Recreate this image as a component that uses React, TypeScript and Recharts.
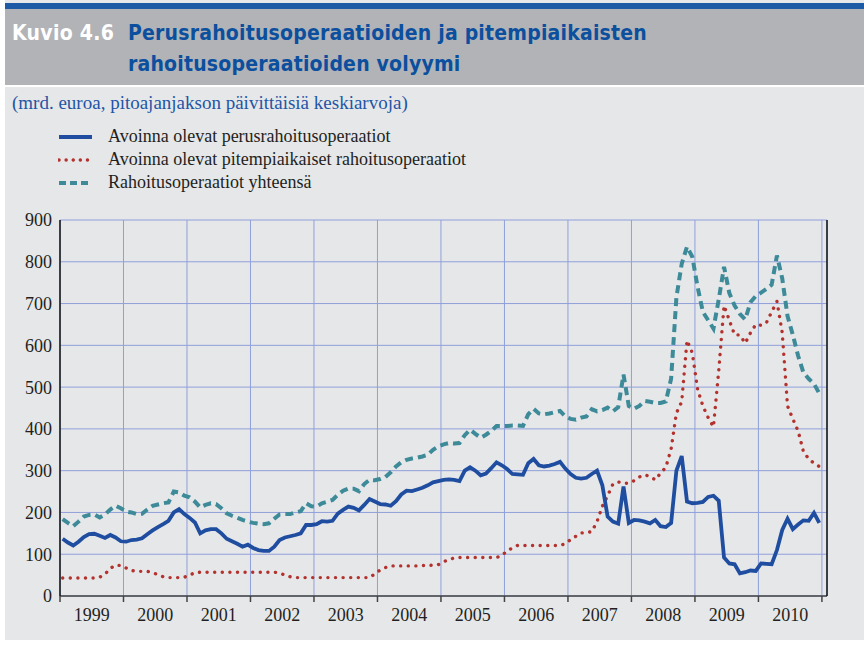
import React from 'react';
import { LineChart, Line, XAxis, YAxis, CartesianGrid } from 'recharts';

// monthly observations, January 1999 .. December 2010 (mrd. euroa)
const perus = [
  137, 128, 121, 130, 141, 148, 149, 144, 139, 146, 140, 131,
  130, 134, 135, 138, 148, 157, 165, 172, 180, 200, 208, 196,
  187, 176, 150, 157, 160, 160, 150, 137, 131, 125, 118, 123,
  115, 110, 108, 108, 118, 134, 140, 143, 146, 150, 170, 170,
  172, 179, 178, 180, 197, 206, 214, 211, 205, 218, 232, 226,
  220, 219, 216, 227, 243, 252, 251, 255, 259, 265, 272, 275,
  278, 279, 278, 275, 300, 308, 300, 289, 293, 306, 320, 313,
  304, 292, 291, 290, 318, 328, 313, 310, 312, 316, 321, 305,
  292, 283, 281, 283, 292, 300, 265, 190, 178, 173, 262, 175,
  182, 181, 178, 174, 182, 167, 165, 175, 300, 335, 226, 222,
  223, 225, 237, 240, 228, 92, 78, 76, 54, 57, 61, 60,
  78, 77, 76, 110, 158, 185, 160, 171, 181, 180, 199, 175,
];

const pitemmat = [
  43, 43, 43, 43, 43, 43, 43, 45, 52, 66, 74, 73,
  67, 61, 59, 59, 59, 56, 51, 46, 44, 44, 44, 45,
  50, 56, 57, 57, 57, 57, 57, 57, 57, 57, 57, 57,
  57, 57, 57, 57, 57, 55, 50, 46, 44, 44, 44, 44,
  44, 44, 44, 44, 44, 44, 44, 44, 44, 44, 44, 53,
  62, 68, 72, 72, 72, 72, 72, 72, 73, 73, 74, 75,
  82, 87, 91, 92, 92, 92, 92, 92, 92, 92, 92, 97,
  108, 115, 121, 121, 121, 121, 121, 121, 121, 121, 121, 125,
  135, 143, 151, 152, 154, 178, 215, 240, 268, 273, 270, 270,
  276, 285, 290, 286, 278, 294, 308, 352, 438, 465, 612, 582,
  495, 455, 427, 405, 540, 695, 660, 625, 625, 605, 630, 650,
  648, 654, 680, 705, 630, 455, 424, 395, 346, 328, 318, 310,
];

const yhteensa = [
  184, 175, 167, 178, 190, 194, 195, 188, 195, 207, 216, 210,
  202, 200, 196, 197, 207, 216, 219, 222, 224, 250, 248, 240,
  236, 226, 212, 218, 222, 220, 210, 198, 192, 187, 182, 178,
  175, 173, 172, 174, 185, 195, 196, 196, 200, 203, 222, 215,
  214, 222, 226, 230, 242, 252, 257, 257, 251, 268, 278, 277,
  280, 285, 296, 310, 320, 326, 329, 331, 334, 338, 350, 358,
  363, 366, 365, 366, 385, 398, 388, 379, 386, 395, 407, 407,
  407, 408, 408, 407, 435, 448, 437, 435, 437, 440, 443, 430,
  424, 422, 427, 430, 447, 442, 445, 451, 442, 452, 530, 455,
  448, 455, 467, 465, 462, 462, 466, 520, 715, 795, 836, 812,
  740, 680, 660, 640, 710, 788, 725, 695, 675, 662, 703, 718,
  726, 735, 745, 815, 760, 670, 625, 575, 535, 520, 508, 485,
];

const yearTicks = [1999, 2000, 2001, 2002, 2003, 2004, 2005, 2006, 2007, 2008, 2009, 2010, 2011];
const valueTicks = [0, 100, 200, 300, 400, 500, 600, 700, 800, 900];

const legendItems = [
  { label: 'Avoinna olevat perusrahoitusoperaatiot', color: '#1f4da0', dash: '', width: 4, cap: 'butt' },
  { label: 'Avoinna olevat pitempiaikaiset rahoitusoperaatiot', color: '#b3322d', dash: '0.1 7', width: 3.4, cap: 'round' },
  { label: 'Rahoitusoperaatiot yhteensä', color: '#3d8a99', dash: '7 4', width: 4, cap: 'butt' },
];

const data = perus.map((v, i) => ({
  t: 1999 + (i + 0.5) / 12,
  perus: v,
  pitemmat: pitemmat[i],
  yhteensa: yhteensa[i],
}));

const X_MAX = 2011.08;
const PLOT_W = 767;
const HALF_YEAR = PLOT_W / (X_MAX - 1999) / 2;
const SERIF = '"Liberation Serif", "Times New Roman", serif';
const TITLE_FONT = '"DejaVu Sans Condensed", "Liberation Sans Narrow", sans-serif';

const YearTick = (props: any) => {
  const { x, y, payload } = props;
  if (payload.value >= 2011) return <g />;
  return (
    <text x={x + HALF_YEAR} y={y} dy="0.95em" textAnchor="middle" fill="#231f20" fontSize={18} fontFamily={SERIF}>
      {payload.value}
    </text>
  );
};

const App: React.FC = () => {
  return (
    <div style={{ position: 'absolute', left: 0, top: 0, width: 864, height: 668, background: '#fff', overflow: 'hidden' }}>
      <div style={{ position: 'absolute', left: 5, top: 0, width: 859, height: 640, background: '#e6e7e9' }} />
      <div style={{ position: 'absolute', left: 5, top: 3, width: 859, height: 6, background: '#1d5aa6' }} />
      <div style={{ position: 'absolute', left: 5, top: 9, width: 859, height: 76, background: '#b2b3b6' }} />
      <div style={{ position: 'absolute', left: 5, top: 85, width: 859, height: 2, background: '#fff' }} />

      <div style={{ position: 'absolute', left: 12, top: 18, fontFamily: TITLE_FONT, fontWeight: 'bold', fontSize: 21, lineHeight: '31px', color: '#fff', letterSpacing: 0.3 }}>
        Kuvio 4.6
      </div>
      <div style={{ position: 'absolute', left: 128, top: 18, fontFamily: TITLE_FONT, fontWeight: 'bold', fontSize: 21, lineHeight: '31px', color: '#0b4f9e', letterSpacing: 0.2 }}>
        Perusrahoitusoperaatioiden ja pitempiaikaisten
        <br />
        rahoitusoperaatioiden volyymi
      </div>

      <div style={{ position: 'absolute', left: 12, top: 92, fontFamily: SERIF, fontSize: 19, color: '#1f55a5' }}>
        (mrd. euroa, pitoajanjakson päivittäisiä keskiarvoja)
      </div>

      <div style={{ position: 'absolute', left: 58, top: 125 }}>
        {legendItems.map((item) => (
          <div key={item.label} style={{ display: 'flex', alignItems: 'center', height: 23 }}>
            <svg width={36} height={10} style={{ marginRight: 14 }}>
              <line x1={1} y1={5} x2={34} y2={5} stroke={item.color} strokeWidth={item.width} strokeDasharray={item.dash} strokeLinecap={item.cap as any} />
            </svg>
            <span style={{ fontFamily: SERIF, fontSize: 18, color: '#231f20' }}>{item.label}</span>
          </div>
        ))}
      </div>

      <div style={{ position: 'absolute', left: 0, top: 200 }}>
        <LineChart width={864} height={440} data={data} margin={{ top: 20, right: 0, bottom: 14, left: 5 }}>
          <CartesianGrid stroke="#8fa0da" strokeWidth={1} />
          <XAxis
            dataKey="t"
            type="number"
            domain={[1999, X_MAX]}
            ticks={yearTicks}
            allowDataOverflow
            height={30}
            tickSize={6}
            axisLine={{ stroke: '#444', strokeWidth: 1.5 }}
            tickLine={{ stroke: '#444', strokeWidth: 1.5 }}
            tick={<YearTick />}
          />
          <YAxis
            domain={[0, 900]}
            ticks={valueTicks}
            width={55}
            tickLine={false}
            axisLine={{ stroke: '#111', strokeWidth: 1.5 }}
            tick={{ fill: '#231f20', fontSize: 18, fontFamily: SERIF }}
          />
          <YAxis
            yAxisId="right"
            orientation="right"
            domain={[0, 900]}
            ticks={valueTicks}
            width={37}
            tickLine={false}
            axisLine={{ stroke: '#111', strokeWidth: 1.5 }}
            tick={{ fill: '#231f20', fontSize: 18, fontFamily: SERIF, textAnchor: 'start' }}
          />
          <Line type="linear" dataKey="yhteensa" stroke="#3d8a99" strokeWidth={4} strokeDasharray="8 5" dot={false} isAnimationActive={false} />
          <Line type="linear" dataKey="pitemmat" stroke="#b3322d" strokeWidth={3.4} strokeDasharray="0.1 7.5" strokeLinecap="round" dot={false} isAnimationActive={false} />
          <Line type="linear" dataKey="perus" stroke="#1f4da0" strokeWidth={3.8} dot={false} isAnimationActive={false} />
        </LineChart>
      </div>
    </div>
  );
};

export default App;
